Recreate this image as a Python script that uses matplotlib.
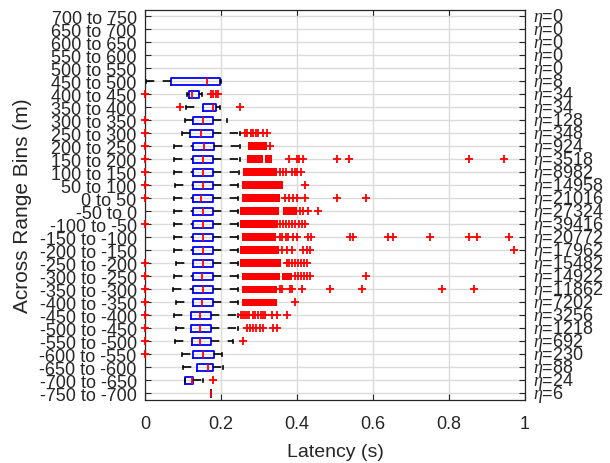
import matplotlib
matplotlib.use("Agg")
import matplotlib.pyplot as plt
import matplotlib.transforms as mtransforms

# ---------------- data (bottom row first) ----------------
bin_labels = ["-750 to -700", "-700 to -650", "-650 to -600", "-600 to -550",
              "-550 to -500", "-500 to -450", "-450 to -400", "-400 to -350",
              "-350 to -300", "-300 to -250", "-250 to -200", "-200 to -150",
              "-150 to -100", "-100 to -50", "-50 to 0", "0 to 50", "50 to 100",
              "100 to 150", "150 to 200", "200 to 250", "250 to 300",
              "300 to 350", "350 to 400", "400 to 450", "450 to 500",
              "500 to 550", "550 to 600", "600 to 650", "650 to 700", "700 to 750"]
counts = [6, 24, 88, 230, 692, 1218, 3256, 7202, 11862, 14922, 15482, 17962,
          20772, 39416, 27324, 21016, 14958, 8982, 3518, 924, 348, 128, 34, 34,
          8, 0, 0, 0, 0, 0]

whislo = [0.174, 0.105, 0.099, 0.097, 0.079, 0.082, 0.075, 0.082, 0.073, 0.077,
          0.082, 0.077, 0.077, 0.077, 0.077, 0.077, 0.079, 0.077, 0.077, 0.077,
          0.097, 0.104, 0.107, 0.111, 0.002]
q1 = [0.174, 0.105, 0.138, 0.125, 0.123, 0.121, 0.121, 0.125, 0.125, 0.125,
      0.125, 0.125, 0.125, 0.125, 0.125, 0.125, 0.125, 0.125, 0.125, 0.125,
      0.118, 0.125, 0.152, 0.117, 0.068]
med = [0.174, 0.123, 0.167, 0.152, 0.145, 0.145, 0.145, 0.149, 0.153, 0.149,
       0.152, 0.152, 0.152, 0.152, 0.152, 0.147, 0.152, 0.152, 0.153, 0.155,
       0.148, 0.152, 0.178, 0.123, 0.164]
q3 = [0.174, 0.127, 0.178, 0.182, 0.174, 0.174, 0.174, 0.178, 0.178, 0.178,
      0.178, 0.178, 0.178, 0.178, 0.178, 0.178, 0.178, 0.178, 0.180, 0.182,
      0.178, 0.178, 0.186, 0.142, 0.197]
whishi = [0.174, 0.153, 0.204, 0.202, 0.232, 0.245, 0.244, 0.245, 0.245, 0.245,
          0.245, 0.245, 0.245, 0.245, 0.245, 0.245, 0.245, 0.248, 0.250, 0.250,
          0.250, 0.216, 0.197, 0.149, 0.199]

fliers = [
    [],
    [0.178],
    [],
    [0.0],
    [0.0, 0.259],
    [0.0, 0.268, 0.276, 0.284, 0.293, 0.302, 0.311, 0.338, 0.347],
    [0.0, 0.252, 0.257, 0.262, 0.268, 0.274, 0.283, 0.290, 0.297, 0.305, 0.310,
     0.316, 0.333, 0.347, 0.373],
    [0.0, 0.395],
    [0.0, 0.355, 0.360, 0.382, 0.388, 0.412, 0.487, 0.572, 0.782, 0.866],
    [0.0, 0.395, 0.403, 0.410, 0.418, 0.426, 0.434, 0.581],
    [0.0, 0.373, 0.380, 0.388, 0.395, 0.402, 0.410, 0.418, 0.425],
    [0.360, 0.373, 0.386, 0.417, 0.425, 0.434, 0.971],
    [0.355, 0.360, 0.370, 0.375, 0.390, 0.400, 0.430, 0.437, 0.540, 0.548,
     0.640, 0.652, 0.750, 0.853, 0.873, 0.959],
    [0.0, 0.355, 0.362, 0.370, 0.378, 0.386, 0.395, 0.404, 0.413, 0.420],
    [0.408, 0.417, 0.430, 0.456],
    [0.0, 0.368, 0.380, 0.389, 0.399, 0.421, 0.506, 0.581],
    [0.0, 0.421],
    [0.0, 0.354, 0.362, 0.371, 0.386, 0.394, 0.400, 0.410],
    [0.0, 0.380, 0.400, 0.405, 0.415, 0.506, 0.537, 0.853, 0.945],
    [0.0, 0.329],
    [0.0, 0.263, 0.268, 0.278, 0.283, 0.293, 0.298, 0.310, 0.322],
    [0.0],
    [0.092, 0.250],
    [0.0, 0.174, 0.180, 0.187, 0.193],
    [],
]

# dense runs of outliers that merge into solid red bands: (row, start, end)
band_row = [7, 8, 9, 9, 10, 11, 12, 13, 14, 14, 15, 16, 17, 18, 18, 19]
band_lo = [0.254, 0.254, 0.254, 0.360, 0.250, 0.250, 0.254, 0.250, 0.250, 0.364,
           0.254, 0.254, 0.257, 0.268, 0.316, 0.272]
band_hi = [0.347, 0.347, 0.355, 0.386, 0.357, 0.353, 0.345, 0.351, 0.353, 0.399,
           0.355, 0.364, 0.347, 0.311, 0.333, 0.321]

xticks = [0, 0.2, 0.4, 0.6, 0.8, 1]
xticklabels = ["0", "0.2", "0.4", "0.6", "0.8", "1"]

# ---------------- style ----------------
plt.rcParams['font.family'] = ['Liberation Sans', 'DejaVu Sans']
plt.rcParams['mathtext.fontset'] = 'custom'
plt.rcParams['mathtext.it'] = 'Liberation Serif:italic'
dark = (0.15, 0.15, 0.15)

fig = plt.figure(figsize=(6.1, 4.64), dpi=100)
ax = fig.add_axes([145 / 610, 63 / 464, 380 / 610, 390.3 / 464])

stats = []
positions = []
for i in range(len(whislo)):
    stats.append(dict(med=med[i], q1=q1[i], q3=q3[i], whislo=whislo[i],
                      whishi=whishi[i], fliers=fliers[i]))
    positions.append(i)

res = ax.bxp(stats, positions=positions, vert=False, widths=0.5,
             capwidths=0.25, patch_artist=False, manage_ticks=False,
             boxprops=dict(color='blue', linewidth=1.3),
             medianprops=dict(color='red', linewidth=1.3),
             whiskerprops=dict(color='black', linewidth=1.2,
                               linestyle=(0, (5, 5))),
             capprops=dict(color='black', linewidth=1.2),
             flierprops=dict(marker='+', markeredgecolor='red',
                             markersize=5.5, markeredgewidth=1.3,
                             linestyle='none'))
# draw lower whiskers from the adjacent value towards the box
for j, w in enumerate(res['whiskers']):
    if j % 2 == 0:
        w.set_xdata(w.get_xdata()[::-1])
for f in res['fliers']:
    f.set_clip_on(False)
    f.set_zorder(4)

ax.barh(band_row, [h - l for l, h in zip(band_lo, band_hi)], left=band_lo,
        height=0.6, color='red', linewidth=0, zorder=2)

ax.set_xlim(0, 1)
ax.set_ylim(-0.5, len(bin_labels) - 0.5)
ax.set_yticks(range(len(bin_labels)))
ax.set_yticklabels(bin_labels)
ax.set_xticks(xticks)
ax.set_xticklabels(xticklabels)

ax.grid(True, color=(0.86, 0.86, 0.86), linewidth=1.0, zorder=0)
ax.set_axisbelow(True)
ax.tick_params(axis='both', direction='in', length=4, width=0.8,
               top=True, right=True, colors=dark, labelsize=13)
ax.tick_params(axis='y', pad=6)
ax.tick_params(axis='x', pad=11)
for s in ax.spines.values():
    s.set_color(dark)
    s.set_linewidth(0.9)

trans = mtransforms.blended_transform_factory(ax.transAxes, ax.transData)
for i, n in enumerate(counts):
    ax.text(1.021, i, r'$\eta$=' + str(n), transform=trans, ha='left',
            va='center', fontsize=13, color=dark)

ax.set_xlabel('Latency (s)', fontsize=14, color=dark, labelpad=8)
ax.set_ylabel('Across Range Bins (m)', fontsize=15, color=dark, labelpad=5)

fig.savefig('out.png', dpi=100)
